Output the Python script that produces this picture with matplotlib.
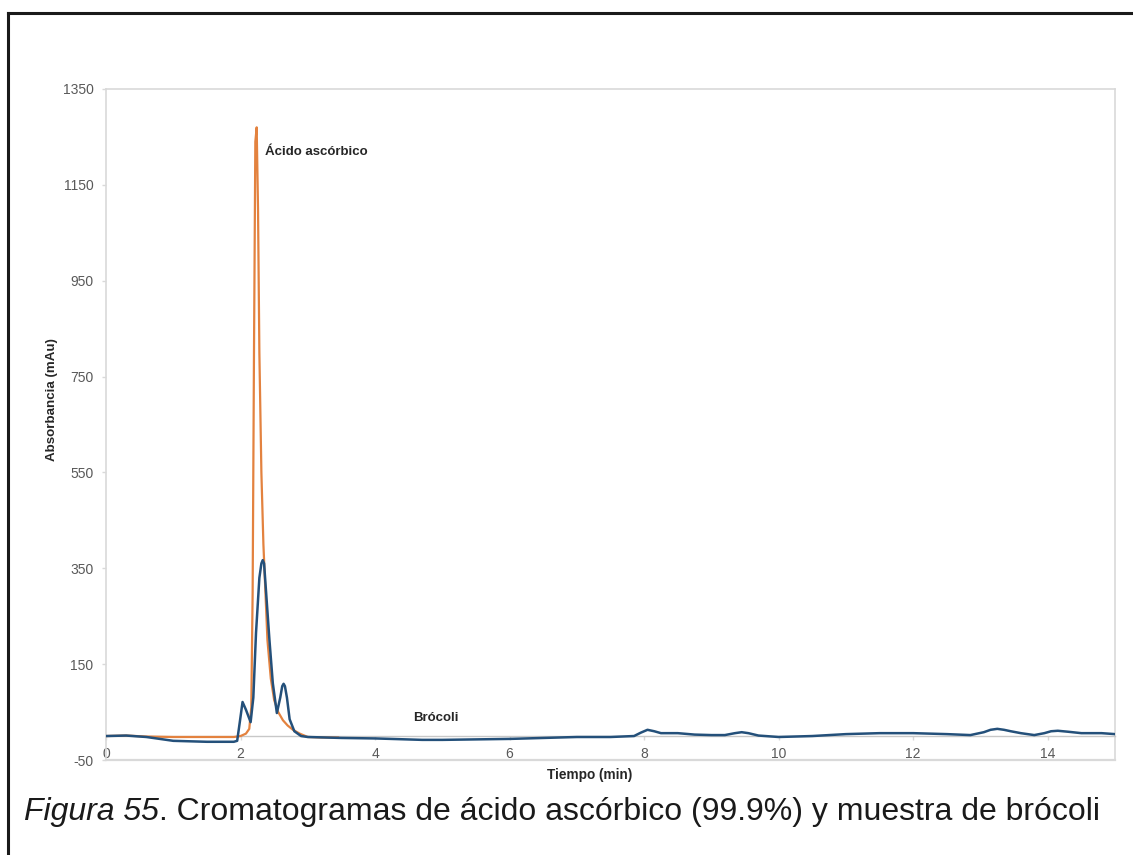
import matplotlib
matplotlib.use("Agg")
import matplotlib.pyplot as plt
from matplotlib.lines import Line2D

plt.rcParams['font.family'] = ['Liberation Sans', 'DejaVu Sans']
plt.rcParams['axes.unicode_minus'] = False

# ---- data ----
std_time = [0, 0.3, 0.6, 1.0, 1.5, 1.9, 2.0, 2.08, 2.13, 2.16, 2.18, 2.20, 2.22, 2.24, 2.26,
            2.28, 2.31, 2.34, 2.37, 2.40, 2.45, 2.50, 2.56, 2.63, 2.70, 2.78, 2.88,
            3.0, 3.2, 3.45]
std_abs = [0, 1, -1, -2, -2, -2, 0, 5, 15, 60, 300, 800, 1240, 1270, 1100,
           800, 550, 400, 300, 200, 120, 75, 50, 33, 22, 13, 5,
           -2, -3, -3]

broc_time = [0, 0.3, 0.6, 1.0, 1.5, 1.9, 1.95, 1.99, 2.03, 2.08, 2.15, 2.19, 2.23, 2.28,
             2.31, 2.33, 2.35, 2.38, 2.43, 2.48, 2.54, 2.59, 2.62, 2.64, 2.66, 2.69,
             2.73, 2.8, 2.9, 3.0,
             3.5, 4.0, 4.7, 5.0, 5.5, 6.0, 6.5, 7.0, 7.5, 7.85, 7.95, 8.05, 8.15, 8.25, 8.5,
             8.75, 9.0, 9.2, 9.35, 9.45, 9.55, 9.7, 10.0, 10.5, 11.0, 11.5, 12.0, 12.5, 12.85,
             13.05, 13.15, 13.25, 13.35, 13.45, 13.6, 13.8, 13.95, 14.05, 14.15, 14.3, 14.5,
             14.8, 15.0]
broc_abs = [0, 1, -2, -10, -12, -12, -10, 30, 71, 55, 29, 80, 215, 330,
            360, 367, 360, 300, 200, 110, 48, 80, 104, 109, 104, 80,
            35, 10, 0, -2,
            -4, -5, -8, -8, -7, -6, -4, -2, -2, 0, 7, 13, 10, 6, 6,
            3, 2, 2, 6, 8, 6, 1, -2, 0, 4, 6, 6, 4, 2,
            8, 13, 15, 13, 10, 6, 2, 6, 10, 11, 9, 6,
            6, 4]

y_ticks = [-50, 150, 350, 550, 750, 950, 1150, 1350]
x_ticks = [0, 2, 4, 6, 8, 10, 12, 14]

label_std = "Ácido ascórbico"
label_broc = "Brócoli"
x_label = "Tiempo (min)"
y_label = "Absorbancia (mAu)"
caption_italic = "Figura 55"
caption_rest = ". Cromatogramas de ácido ascórbico (99.9%) y muestra de brócoli"

# ---- figure ----
W, H = 1133, 855
fig = plt.figure(figsize=(W / 100, H / 100), dpi=100)
ax = fig.add_axes([106 / W, 1 - 760 / H, (1115 - 106) / W, (760 - 89) / H])

grid_gray = '#d9d9d9'
tick_gray = '#595959'

ax.plot(std_time, std_abs, color='#e3823f', lw=1.6, zorder=3,
        solid_joinstyle='round')
ax.plot(broc_time, broc_abs, color='#24507a', lw=1.8, zorder=4,
        solid_joinstyle='round')

ax.set_xlim(0, 15)
ax.set_ylim(-50, 1350)
ax.set_yticks(y_ticks)
ax.set_xticks(x_ticks)

for s in ['top', 'right', 'left']:
    ax.spines[s].set_color(grid_gray)
    ax.spines[s].set_linewidth(1.2)
ax.spines['bottom'].set_position(('data', 0))
ax.spines['bottom'].set_color('#c8c8c8')
ax.spines['bottom'].set_linewidth(1.0)
# bottom frame of the plot area
ax.plot([0, 1], [0, 0], transform=ax.transAxes, color=grid_gray, lw=1.6,
        clip_on=False, zorder=1)

ax.tick_params(axis='y', colors=grid_gray, labelcolor=tick_gray, labelsize=10,
               length=3, width=1, pad=6)
ax.tick_params(axis='x', colors=grid_gray, labelcolor=tick_gray, labelsize=10,
               length=3, width=1, pad=5)

ax.text(2.37, 1219, label_std, fontsize=9.5, fontweight='bold', color='#262626',
        va='center', ha='left')
ax.text(4.57, 38, label_broc, fontsize=9.5, fontweight='bold', color='#262626',
        va='center', ha='left')

fig.text(590 / W, 1 - 775 / H, x_label, fontsize=9.8, fontweight='bold',
         color='#262626', ha='center', va='center')
fig.text(52 / W, 1 - 400 / H, y_label, fontsize=9.6, fontweight='bold',
         color='#262626', ha='center', va='center', rotation=90)

# caption
t1 = fig.text(24 / W, 1 - 812 / H, caption_italic, fontsize=23, style='italic',
              color='#1a1a1a', ha='left', va='center')
fig.canvas.draw()
bb = t1.get_window_extent()
fig.text(bb.x1 / W, 1 - 812 / H, caption_rest, fontsize=23, color='#1a1a1a',
         ha='left', va='center')

# outer black border (top and left)
fig.add_artist(Line2D([8 / W, 1.0], [1 - 13 / H, 1 - 13 / H], color='#1a1a1a', lw=2.2))
fig.add_artist(Line2D([8 / W, 8 / W], [1 - 13 / H, 0.0], color='#1a1a1a', lw=2.2))

fig.savefig('out.png', dpi=100, facecolor='white')
